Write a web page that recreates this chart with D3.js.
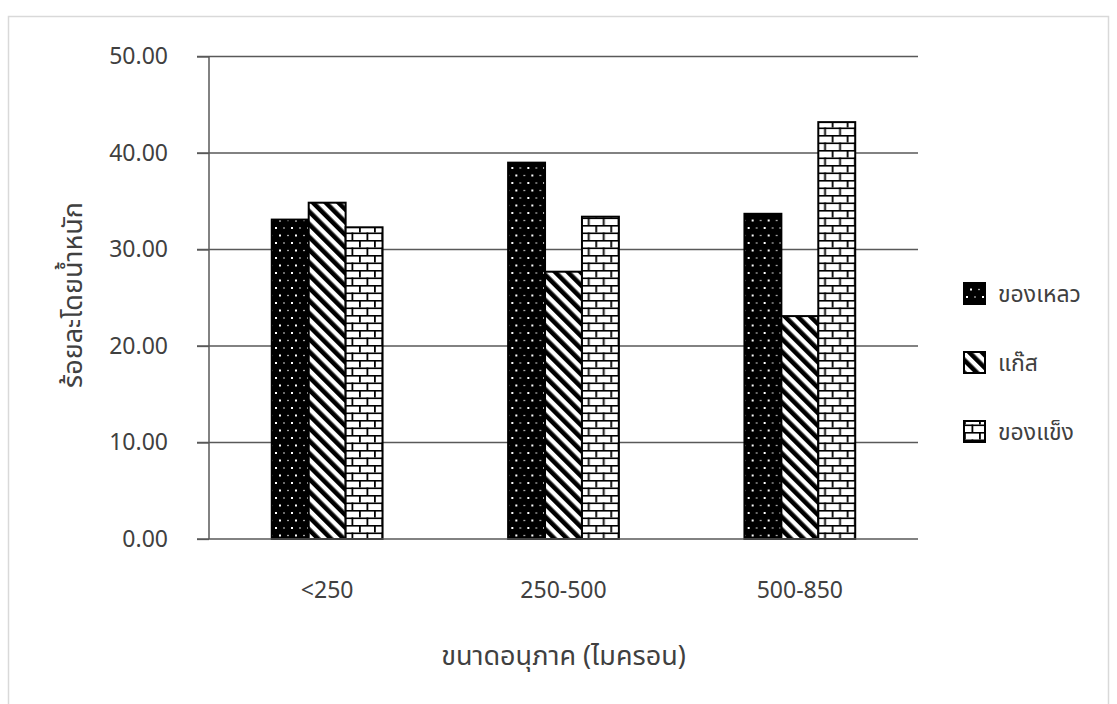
<!DOCTYPE html>
<html>
<head>
<meta charset="utf-8">
<script src="https://cdn.jsdelivr.net/npm/d3@7"></script>
<style>
  html, body { margin: 0; padding: 0; background: #fff; }
  svg { display: block; }
  text { font-family: "Leelawadee UI", Tahoma, "Noto Sans Thai", "Noto Sans", "DejaVu Sans", sans-serif; fill: #404040; }
</style>
</head>
<body>
<script>
// Particle-size groups and weight percentage of each product fraction
const categories = ["<250", "250-500", "500-850"];
const seriesNames = ["ของเหลว", "แก๊ส", "ของแข็ง"];
const liquid = [33.1, 39.0, 33.7];
const gas = [34.85, 27.7, 23.1];
const solid = [32.3, 33.4, 43.2];
const yTicks = [0, 10, 20, 30, 40, 50];
const yTitle = "ร้อยละโดยน้ำหนัก";
const xTitle = "ขนาดอนุภาค (ไมครอน)";

const seriesValues = [liquid, gas, solid];
const patternIds = ["pat-dots", "pat-diag", "pat-brick"];

const W = 1117, H = 704;
const plot = { left: 209, right: 918, top: 56.5, bottom: 539 };

const svg = d3.select("body").append("svg").attr("width", W).attr("height", H);
const defs = svg.append("defs");

// Dotted fill: black with small white dots
const pd = defs.append("pattern").attr("id", "pat-dots")
  .attr("patternUnits", "userSpaceOnUse").attr("width", 16).attr("height", 15);
pd.append("rect").attr("width", 16).attr("height", 15).attr("fill", "#000");
[[3, 3, 2], [11, 3, 1.3], [7, 10.5, 2], [15, 10.5, 1.3]].forEach(([x, y, s]) => {
  pd.append("rect").attr("x", x - s / 2).attr("y", y - s / 2)
    .attr("width", s).attr("height", s).attr("fill", "#fff");
});

// Wide downward diagonal stripes
const pg = defs.append("pattern").attr("id", "pat-diag")
  .attr("patternUnits", "userSpaceOnUse").attr("width", 9).attr("height", 9)
  .attr("patternTransform", "rotate(-45)");
pg.append("rect").attr("width", 9).attr("height", 9).attr("fill", "#fff");
pg.append("rect").attr("width", 4.6).attr("height", 9).attr("fill", "#000");

// Horizontal brick fill
const pb = defs.append("pattern").attr("id", "pat-brick")
  .attr("patternUnits", "userSpaceOnUse").attr("width", 15).attr("height", 15);
pb.append("rect").attr("width", 15).attr("height", 15).attr("fill", "#fff");
pb.append("rect").attr("x", 0).attr("y", 0).attr("width", 15).attr("height", 1.6).attr("fill", "#000");
pb.append("rect").attr("x", 0).attr("y", 7.5).attr("width", 15).attr("height", 1.6).attr("fill", "#000");
pb.append("rect").attr("x", 0).attr("y", 0).attr("width", 1.8).attr("height", 7.5).attr("fill", "#000");
pb.append("rect").attr("x", 7.5).attr("y", 7.5).attr("width", 1.8).attr("height", 7.5).attr("fill", "#000");

// Chart-area frame
svg.append("rect").attr("x", 8.5).attr("y", 16.5).attr("width", 1100).attr("height", 720)
  .attr("fill", "none").attr("stroke", "#d9d9d9").attr("stroke-width", 1.5);

const x0 = d3.scaleBand().domain(categories).range([plot.left, plot.right]).paddingInner(0).paddingOuter(0);
const x1 = d3.scaleBand().domain(d3.range(seriesNames.length))
  .range([0, x0.bandwidth()]).paddingOuter(1.7).paddingInner(0);
const y = d3.scaleLinear().domain([0, 50]).range([plot.bottom, plot.top]);

// Gridlines
svg.append("g").selectAll("line").data(yTicks.filter(d => d > 0)).join("line")
  .attr("x1", plot.left - 12).attr("x2", plot.right)
  .attr("y1", d => y(d)).attr("y2", d => y(d))
  .attr("stroke", "#595959").attr("stroke-width", 1.3);

const numFont = "'Leelawadee UI', Tahoma, 'Noto Sans', 'DejaVu Sans', sans-serif";

// Y axis
const yAxis = svg.append("g").attr("transform", `translate(${plot.left},0)`)
  .call(d3.axisLeft(y).tickValues(yTicks).tickFormat(d3.format(".2f")).tickSize(12).tickPadding(29));
yAxis.select(".domain").attr("stroke", "#595959").attr("stroke-width", 1.5).attr("d", `M0,${plot.top}V${plot.bottom}`);
yAxis.selectAll(".tick line").attr("stroke", "#595959").attr("stroke-width", 1.3);
yAxis.selectAll(".tick text").attr("font-size", 23).attr("fill", "#404040").style("font-family", numFont);

// Bars
const groups = svg.append("g").selectAll("g").data(categories).join("g")
  .attr("transform", d => `translate(${x0(d)},0)`);
groups.selectAll("rect").data((c, ci) => seriesValues.map((vals, si) => ({ si, v: vals[ci] })))
  .join("rect")
  .attr("x", d => x1(d.si)).attr("width", x1.bandwidth())
  .attr("y", d => y(d.v)).attr("height", d => y(0) - y(d.v))
  .attr("fill", d => `url(#${patternIds[d.si]})`)
  .attr("stroke", "#000").attr("stroke-width", 2);

// X axis baseline and labels
const xAxis = svg.append("g").attr("transform", `translate(0,${plot.bottom})`)
  .call(d3.axisBottom(x0).tickSize(0).tickPadding(43));
xAxis.select(".domain").attr("stroke", "#595959").attr("stroke-width", 1.5)
  .attr("d", `M${plot.left - 12},0H${plot.right}`);
xAxis.selectAll(".tick text").attr("font-size", 23).attr("fill", "#404040").style("font-family", numFont);

// Axis titles
svg.append("text").attr("x", (plot.left + plot.right) / 2).attr("y", 665)
  .attr("text-anchor", "middle").attr("font-size", 27).text(xTitle);
svg.append("text").attr("transform", "translate(82,295) rotate(-90)")
  .attr("text-anchor", "middle").attr("font-size", 27).text(yTitle);

// Legend
const legendY = [294, 363, 432];
const lg = svg.append("g").selectAll("g").data(seriesNames).join("g")
  .attr("transform", (d, i) => `translate(964,${legendY[i]})`);
lg.append("rect").attr("x", 0).attr("y", -11).attr("width", 21).attr("height", 21)
  .attr("fill", (d, i) => `url(#${patternIds[i]})`).attr("stroke", "#000").attr("stroke-width", 2);
lg.append("text").attr("x", 34).attr("y", 0).attr("dy", "0.35em")
  .attr("font-size", 23).text(d => d);
</script>
</body>
</html>
